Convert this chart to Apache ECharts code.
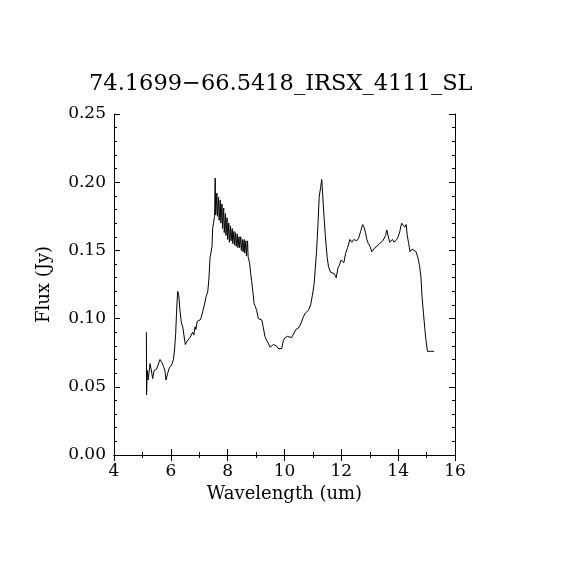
<!DOCTYPE html>
<html><head><meta charset="utf-8">
<script src="https://cdn.jsdelivr.net/npm/echarts@6/dist/echarts.min.js"></script>
<style>html,body{margin:0;padding:0;background:#fff}#c{width:570px;height:570px}</style>
</head><body><div id="c"></div>
<script>
const titleText = '74.1699\u221266.5418_IRSX_4111_SL';
const xName = 'Wavelength (um)';
const yName = 'Flux (Jy)';
const wavelength = [5.14,5.145,5.17,5.20,5.27,5.33,5.36,5.41,5.50,5.56,5.62,5.68,5.74,5.79,5.83,5.89,5.95,6.03,6.09,6.13,6.17,6.20,6.24,6.28,6.32,6.37,6.42,6.46,6.51,6.56,6.61,6.67,6.73,6.77,6.81,6.85,6.88,6.93,6.98,7.03,7.07,7.12,7.18,7.24,7.30,7.34,7.38,7.41,7.45,7.47,7.50,7.54,7.56,
7.58,7.62,7.64,7.68,7.70,7.74,7.76,7.80,7.82,7.86,7.88,7.92,7.94,7.98,8.00,8.04,8.06,8.10,8.12,8.16,8.18,8.22,8.24,8.28,8.30,8.34,8.36,8.40,8.42,8.46,8.48,8.52,8.54,8.58,8.60,8.64,8.66,8.70,8.72,
8.77,8.81,8.84,8.88,8.93,8.97,9.02,9.08,9.14,9.20,9.25,9.31,9.37,9.43,9.49,9.55,9.61,9.66,9.72,9.78,9.84,9.90,9.96,10.02,10.10,10.17,10.25,10.31,10.40,10.49,10.57,10.66,10.73,10.84,10.92,10.98,11.04,11.08,11.13,11.18,11.22,11.27,11.31,11.34,11.39,11.44,11.50,11.55,11.62,11.69,11.75,11.82,11.88,11.93,11.99,12.05,12.09,12.15,12.22,12.30,12.37,12.44,12.54,12.61,12.68,12.75,12.80,12.85,12.90,12.95,13.01,13.07,13.13,13.18,13.26,13.34,13.39,13.46,13.51,13.56,13.60,13.65,13.70,13.75,13.80,13.85,13.90,13.95,14.00,14.06,14.12,14.18,14.23,14.28,14.32,14.37,14.42,14.49,14.56,14.63,14.69,14.75,14.80,14.84,14.89,14.94,14.98,15.03,15.08,15.15,15.21,15.26];
const flux = [0.090,0.044,0.062,0.055,0.067,0.060,0.056,0.062,0.063,0.064,0.070,0.068,0.065,0.062,0.055,0.060,0.064,0.066,0.070,0.077,0.089,0.104,0.120,0.117,0.106,0.097,0.094,0.088,0.081,0.083,0.084,0.086,0.085,0.090,0.088,0.094,0.092,0.098,0.097,0.099,0.101,0.105,0.110,0.116,0.120,0.129,0.145,0.148,0.153,0.166,0.170,0.175,0.203,
0.176,0.192,0.175,0.189,0.172,0.187,0.170,0.184,0.166,0.181,0.163,0.177,0.161,0.174,0.158,0.170,0.156,0.168,0.157,0.166,0.155,0.164,0.154,0.163,0.153,0.162,0.152,0.160,0.152,0.160,0.150,0.158,0.149,0.158,0.148,0.157,0.146,0.157,0.145,
0.141,0.133,0.128,0.121,0.111,0.109,0.106,0.100,0.101,0.099,0.094,0.087,0.084,0.082,0.079,0.078,0.081,0.082,0.080,0.078,0.077,0.078,0.084,0.086,0.087,0.086,0.086,0.087,0.092,0.093,0.096,0.101,0.104,0.106,0.110,0.117,0.125,0.136,0.150,0.170,0.189,0.196,0.202,0.192,0.175,0.160,0.145,0.138,0.134,0.134,0.133,0.130,0.137,0.139,0.143,0.142,0.141,0.148,0.152,0.158,0.156,0.158,0.157,0.159,0.164,0.169,0.167,0.163,0.158,0.155,0.153,0.149,0.150,0.152,0.153,0.155,0.154,0.157,0.156,0.161,0.165,0.164,0.156,0.155,0.158,0.156,0.155,0.158,0.160,0.164,0.170,0.169,0.167,0.169,0.161,0.155,0.149,0.151,0.152,0.149,0.145,0.139,0.131,0.116,0.104,0.092,0.084,0.076,0.075,0.076,0.076,0.076];
const xTicks = [4,6,8,10,12,14,16];
const yTicks = ['0.00','0.05','0.10','0.15','0.20','0.25'];

const font = 'DejaVu Serif';
const chart = echarts.init(document.getElementById('c'), null, {renderer:'canvas'});
function ax(extra, minorSplit){
  return Object.assign({
    axisLine:{show:true,lineStyle:{color:'#000',width:1}},
    axisTick:{show:true,length:-6,lineStyle:{color:'#000',width:1}},
    minorTick:{show:true,splitNumber:minorSplit,length:-3,lineStyle:{color:'#000',width:1}},
    splitLine:{show:false}
  }, extra);
}
chart.setOption({
  animation:false,
  backgroundColor:'#fff',
  title:{text:titleText,left:84,top:68,textStyle:{fontFamily:font,fontWeight:'normal',fontSize:22.5,color:'#000'}},
  grid:{left:114,top:114,width:341,height:341,containLabel:false},
  xAxis:[
    ax({type:'value',min:xTicks[0],max:xTicks[xTicks.length-1],interval:2,position:'bottom',
      name:xName,nameLocation:'middle',nameGap:30,
      nameTextStyle:{fontFamily:font,fontSize:18,color:'#000'},
      axisLabel:{fontFamily:font,fontSize:17,color:'#000',margin:8}},2),
    ax({type:'value',min:xTicks[0],max:xTicks[xTicks.length-1],interval:2,position:'top',axisLabel:{show:false}},2)
  ],
  yAxis:[
    ax({type:'value',min:0,max:0.25,interval:0.05,position:'left',
      name:yName,nameLocation:'middle',nameGap:61,nameRotate:90,
      nameTextStyle:{fontFamily:font,fontSize:18,color:'#000'},
      axisLabel:{fontFamily:font,fontSize:17,color:'#000',margin:8,formatter:(v,i)=>yTicks[i]}},5),
    ax({type:'value',min:0,max:0.25,interval:0.05,position:'right',axisLabel:{show:false}},5)
  ],
  series:[{type:'line',xAxisIndex:0,yAxisIndex:0,data:wavelength.map((w,i)=>[w,flux[i]]),
    showSymbol:false,symbol:'none',smooth:false,lineStyle:{color:'#000',width:1},silent:true}]
});
</script></body></html>
